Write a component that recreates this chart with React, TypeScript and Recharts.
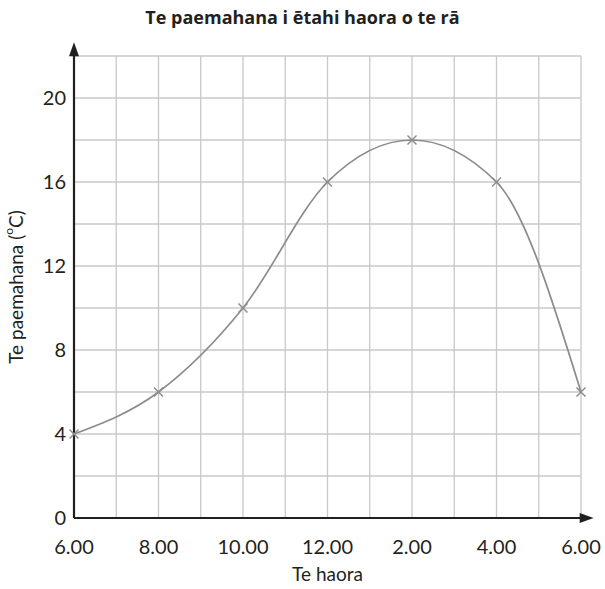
import { LineChart, Line, XAxis, YAxis, CartesianGrid, ReferenceLine, ReferenceDot, Label } from 'recharts'

const hours = [0, 2, 4, 6, 8, 10, 12]
const temps = [4, 6, 10, 16, 18, 16, 6]
const hourLabels = ['6.00', '8.00', '10.00', '12.00', '2.00', '4.00', '6.00']
const xTicks = [0, 1, 2, 3, 4, 5, 6, 7, 8, 9, 10, 11, 12]
const yTicks = [0, 2, 4, 6, 8, 10, 12, 14, 16, 18, 20, 22]

const data = hours.map((h, i) => ({ h, temp: temps[i] }))

const axisColor = '#231f20'
const lineColor = '#8c8c8c'
const tickFont = 'Lato, "DejaVu Sans", sans-serif'

const Cross = (props: any) => {
  const { cx, cy } = props
  if (cx == null || cy == null) return null
  const s = 4.5
  return (
    <g stroke={lineColor} strokeWidth={1.5}>
      <line x1={cx - s} y1={cy - s} x2={cx + s} y2={cy + s} />
      <line x1={cx - s} y1={cy + s} x2={cx + s} y2={cy - s} />
    </g>
  )
}

const UpArrow = (props: any) => {
  const { cx, cy } = props
  return <path d={`M${cx},${cy} L${cx - 5},${cy + 14} L${cx + 5},${cy + 14} Z`} fill={axisColor} />
}

const RightArrow = (props: any) => {
  const { cx, cy } = props
  return <path d={`M${cx},${cy} L${cx - 14},${cy - 5} L${cx - 14},${cy + 5} Z`} fill={axisColor} />
}

const YTitle = (props: any) => {
  const { viewBox } = props
  const x = 15
  const y = viewBox.y + viewBox.height / 2
  return (
    <text x={x} y={y} transform={`rotate(-90, ${x}, ${y})`} textAnchor="middle" dominantBaseline="central"
      fontFamily={tickFont} fontSize={19} fill={axisColor}>
      Te paemahana (<tspan fontSize={12} dy={-7}>o</tspan><tspan dy={7}>C)</tspan>
    </text>
  )
}

export default function App() {
  return (
    <div style={{ position: 'absolute', left: 0, top: 0, width: 605, height: 589, background: '#fff' }}>
      <div style={{ position: 'absolute', top: 5, width: 605, textAlign: 'center', fontFamily: '"Open Sans", sans-serif',
        fontWeight: 700, fontSize: 18, color: axisColor }}>
        Te paemahana i ētahi haora o te rā
      </div>
      <LineChart width={605} height={589} data={data} margin={{ top: 56, right: 24, bottom: 41, left: 0 }}>
        <CartesianGrid stroke="#c8c8c8" strokeWidth={1.3} />
        <XAxis type="number" dataKey="h" domain={[0, 12]} ticks={xTicks} interval={0} height={30}
          tickFormatter={(v: number) => (v % 2 === 0 ? hourLabels[v / 2] : '')}
          axisLine={false} tickLine={false} tickMargin={16}
          tick={{ fill: axisColor, fontSize: 20, fontFamily: tickFont }}>
          <Label value="Te haora" position="bottom" offset={20} fill={axisColor} fontSize={19} fontFamily={tickFont} />
        </XAxis>
        <YAxis type="number" domain={[0, 22]} ticks={yTicks} interval={0} width={74}
          tickFormatter={(v: number) => (v % 4 === 0 && v <= 20 ? String(v) : '')}
          axisLine={false} tickLine={false} tickMargin={2}
          tick={{ fill: axisColor, fontSize: 20, fontFamily: tickFont }}>
          <Label content={<YTitle />} />
        </YAxis>
        <ReferenceLine segment={[{ x: 0, y: 0 }, { x: 0, y: 22.3 }]} ifOverflow="visible" stroke={axisColor} strokeWidth={2.2} />
        <ReferenceLine segment={[{ x: 0, y: 0 }, { x: 12.05, y: 0 }]} ifOverflow="visible" stroke={axisColor} strokeWidth={2.2} />
        <ReferenceDot x={0} y={22.65} ifOverflow="visible" shape={<UpArrow />} />
        <ReferenceDot x={12.3} y={0} ifOverflow="visible" shape={<RightArrow />} />
        <Line type="monotone" dataKey="temp" stroke={lineColor} strokeWidth={1.7} dot={<Cross />}
          activeDot={false} isAnimationActive={false} />
      </LineChart>
    </div>
  )
}
